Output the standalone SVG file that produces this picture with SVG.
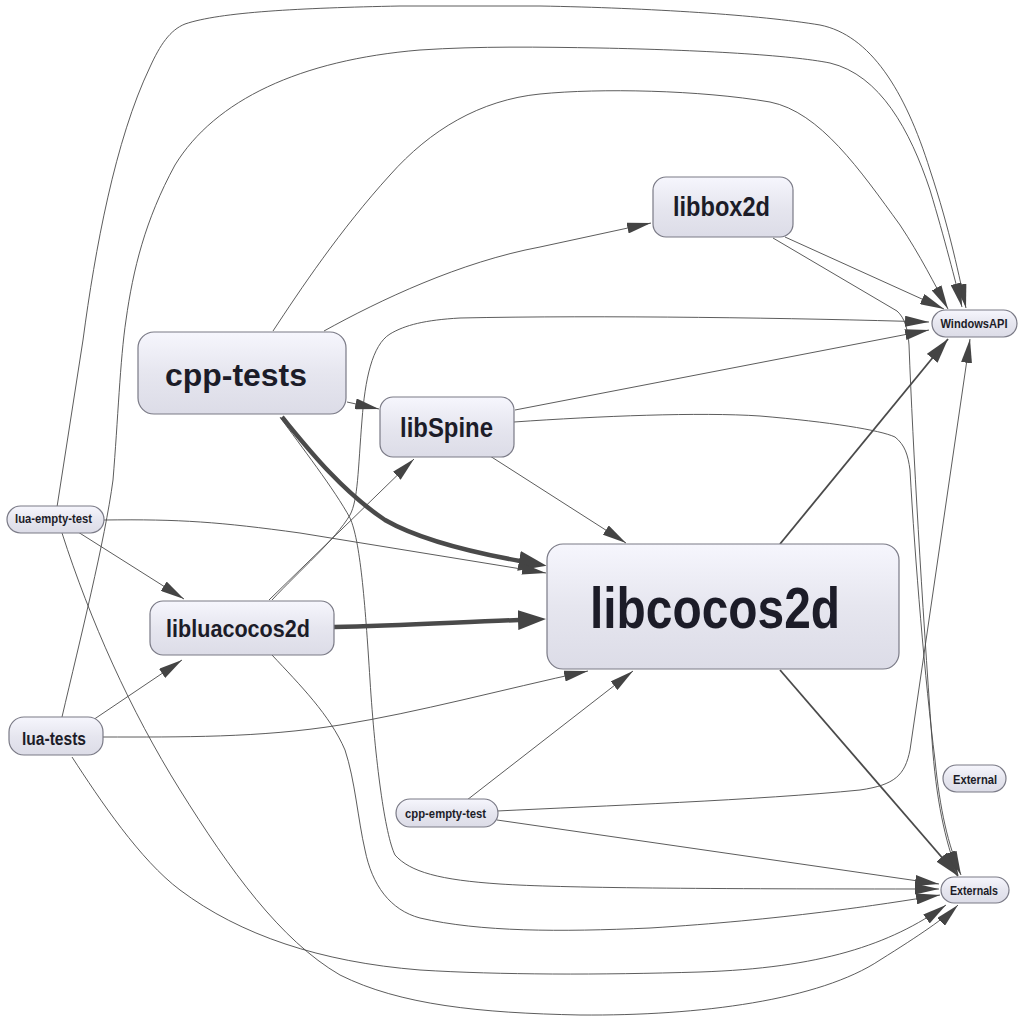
<svg xmlns="http://www.w3.org/2000/svg" width="1024" height="1021" viewBox="0 0 1024 1021">
<defs>
<linearGradient id="g" x1="0" y1="0" x2="0" y2="1">
<stop offset="0" stop-color="#f6f6fd"/>
<stop offset="0.5" stop-color="#e6e6ef"/>
<stop offset="1" stop-color="#dcdce7"/>
</linearGradient>
<marker id="a" markerUnits="userSpaceOnUse" markerWidth="24" markerHeight="11" viewBox="0 0 24 11" refX="24" refY="5.5" orient="auto">
<path d="M0,0 L24,5.5 L0,11 z" fill="#444"/>
</marker>
<marker id="m" markerUnits="userSpaceOnUse" markerWidth="25" markerHeight="14" viewBox="0 0 25 14" refX="25" refY="7" orient="auto">
<path d="M0,0 L25,7 L0,14 z" fill="#444"/>
</marker>
<marker id="t" markerUnits="userSpaceOnUse" markerWidth="28" markerHeight="20" viewBox="0 0 28 20" refX="1" refY="10" orient="auto">
<path d="M0,0 L28,10 L0,20 z" fill="#444"/>
</marker>
</defs>
<style>
.n rect{fill:url(#g);stroke:#7a7a86;stroke-width:1.2}
.n text{font-family:"Liberation Sans Narrow","Liberation Sans",Arial,sans-serif;font-weight:bold;fill:#1c1c28;text-anchor:middle}
.e path{fill:none;stroke:#4a4a4a;stroke-width:0.9}
.e path.a{marker-end:url(#a)}
.e path.m{stroke-width:1.8;marker-end:url(#m)}
.e path.t{stroke-width:4.5;marker-end:url(#t)}
</style>
<rect width="1024" height="1021" fill="#ffffff"/>
<g id="connectors" class="e">
<path class="a" d="M57,507 L83,340 C95,250 115,140 150,67 C160,45 170,30 185,24 C220,12 300,8 400,6 L540,6 C650,8 760,15 820,25 C870,35 905,90 930,170 C950,230 960,280 966,308"/>
<path class="a" d="M62,717 C80,640 105,540 113,480 C118,420 120,360 126,320 C133,270 145,220 175,165 C215,100 300,60 420,50 C480,46 540,47 600,48 C700,50 790,55 830,63 C880,75 910,130 930,190 C945,240 955,280 962,307"/>
<path class="a" d="M273,331 C300,290 340,230 390,175 C430,130 480,100 540,94 C600,88 700,90 770,102 C820,112 860,170 900,225 C920,255 935,285 948,309"/>
<path class="a" d="M324,331 C380,300 460,262 540,247 L651,223"/>
<path class="a" d="M785,237 L944,309"/>
<path class="a" d="M773,238 L897,311 C905,318 908,330 909,345 C913,450 922,600 932,740 C936,800 945,840 958,875"/>
<path class="a" d="M514,422 C600,416 700,412 760,416 C830,422 880,430 895,437 C905,445 908,455 910,470 C915,560 925,680 935,760 C940,810 948,845 961,875"/>
<path class="a" d="M515,410 L929,330"/>
<path class="a" d="M272,600 C300,570 335,540 350,515 C358,500 358,470 362,420 C365,380 372,345 390,334 C405,325 425,320 460,318 C600,315 800,318 929,322"/>
<path class="a" d="M269,600 L414,459"/>
<path class="a" d="M490,456 L626,543"/>
<path class="a" d="M347,402 L379,409"/>
<path class="t" d="M282,417 C305,445 340,490 385,520 C420,540 470,552 520,561"/>
<path class="a" d="M280,417 C300,445 335,490 350,518 C360,540 365,600 370,680 C375,760 385,835 395,855 C410,872 440,880 500,884 C560,888 700,889 939,889"/>
<path class="a" d="M104,520 C180,519 220,522 300,533 L546,573"/>
<path class="a" d="M78,532 L184,599"/>
<path class="a" d="M62,533 C90,620 130,710 180,790 C230,870 280,940 340,975 C400,1005 480,1013 580,1015 C700,1016 820,1000 880,960 C920,935 945,918 958,905"/>
<path class="a" d="M72,757 C100,800 140,860 180,890 C240,935 320,962 420,970 C500,975 600,975 700,972 C820,968 890,945 946,905"/>
<path class="a" d="M90,722 L182,660"/>
<path class="a" d="M103,737 C180,737 260,738 340,725 C420,712 500,690 588,671"/>
<path class="t" d="M334,627 C400,626 460,622 519,620"/>
<path class="a" d="M272,655 C300,685 330,715 345,750 C355,780 358,820 365,850 C372,885 390,910 420,918 C480,932 560,932 650,928 C780,920 880,905 940,895"/>
<path class="m" d="M780,544 L948,339"/>
<path class="m" d="M780,670 L958,876"/>
<path class="a" d="M467,800 L633,671"/>
<path class="a" d="M497,811 C600,806 760,800 860,790 C895,785 905,775 910,750 L970,339"/>
<path class="a" d="M497,820 L939,884"/>
</g>
<g id="cpp-tests" class="n"><rect x="138" y="332" width="208" height="82" rx="16"/><text x="236" y="386" font-size="32" textLength="142" lengthAdjust="spacingAndGlyphs">cpp-tests</text></g>
<g id="libSpine" class="n"><rect x="380" y="397" width="134" height="60" rx="13"/><text x="446.5" y="437" font-size="27" textLength="93" lengthAdjust="spacingAndGlyphs">libSpine</text></g>
<g id="libbox2d" class="n"><rect x="653" y="177" width="140" height="60" rx="13"/><text x="721.5" y="216" font-size="27" textLength="97" lengthAdjust="spacingAndGlyphs">libbox2d</text></g>
<g id="WindowsAPI" class="n"><rect x="932" y="310" width="85" height="27" rx="13.5"/><text x="974" y="328" font-size="13" textLength="67" lengthAdjust="spacingAndGlyphs">WindowsAPI</text></g>
<g id="libcocos2d" class="n"><rect x="547" y="544" width="352" height="125" rx="16"/><text x="715" y="628" font-size="57" textLength="250" lengthAdjust="spacingAndGlyphs">libcocos2d</text></g>
<g id="libluacocos2d" class="n"><rect x="150" y="601" width="184" height="54" rx="13"/><text x="238" y="637" font-size="24" textLength="144" lengthAdjust="spacingAndGlyphs">libluacocos2d</text></g>
<g id="lua-empty-test" class="n"><rect x="7" y="506" width="97" height="27" rx="13.5"/><text x="53.5" y="523" font-size="13" textLength="77" lengthAdjust="spacingAndGlyphs">lua-empty-test</text></g>
<g id="lua-tests" class="n"><rect x="9" y="717" width="94" height="38" rx="15"/><text x="54" y="745" font-size="18" textLength="64" lengthAdjust="spacingAndGlyphs">lua-tests</text></g>
<g id="cpp-empty-test" class="n"><rect x="396" y="799" width="102" height="28" rx="14"/><text x="445.5" y="818" font-size="13" textLength="81" lengthAdjust="spacingAndGlyphs">cpp-empty-test</text></g>
<g id="External" class="n"><rect x="943" y="765" width="63" height="27" rx="13.5"/><text x="975" y="784" font-size="13" textLength="44" lengthAdjust="spacingAndGlyphs">External</text></g>
<g id="Externals" class="n"><rect x="941" y="877" width="68" height="26" rx="13"/><text x="974" y="895" font-size="13" textLength="48" lengthAdjust="spacingAndGlyphs">Externals</text></g>
</svg>
